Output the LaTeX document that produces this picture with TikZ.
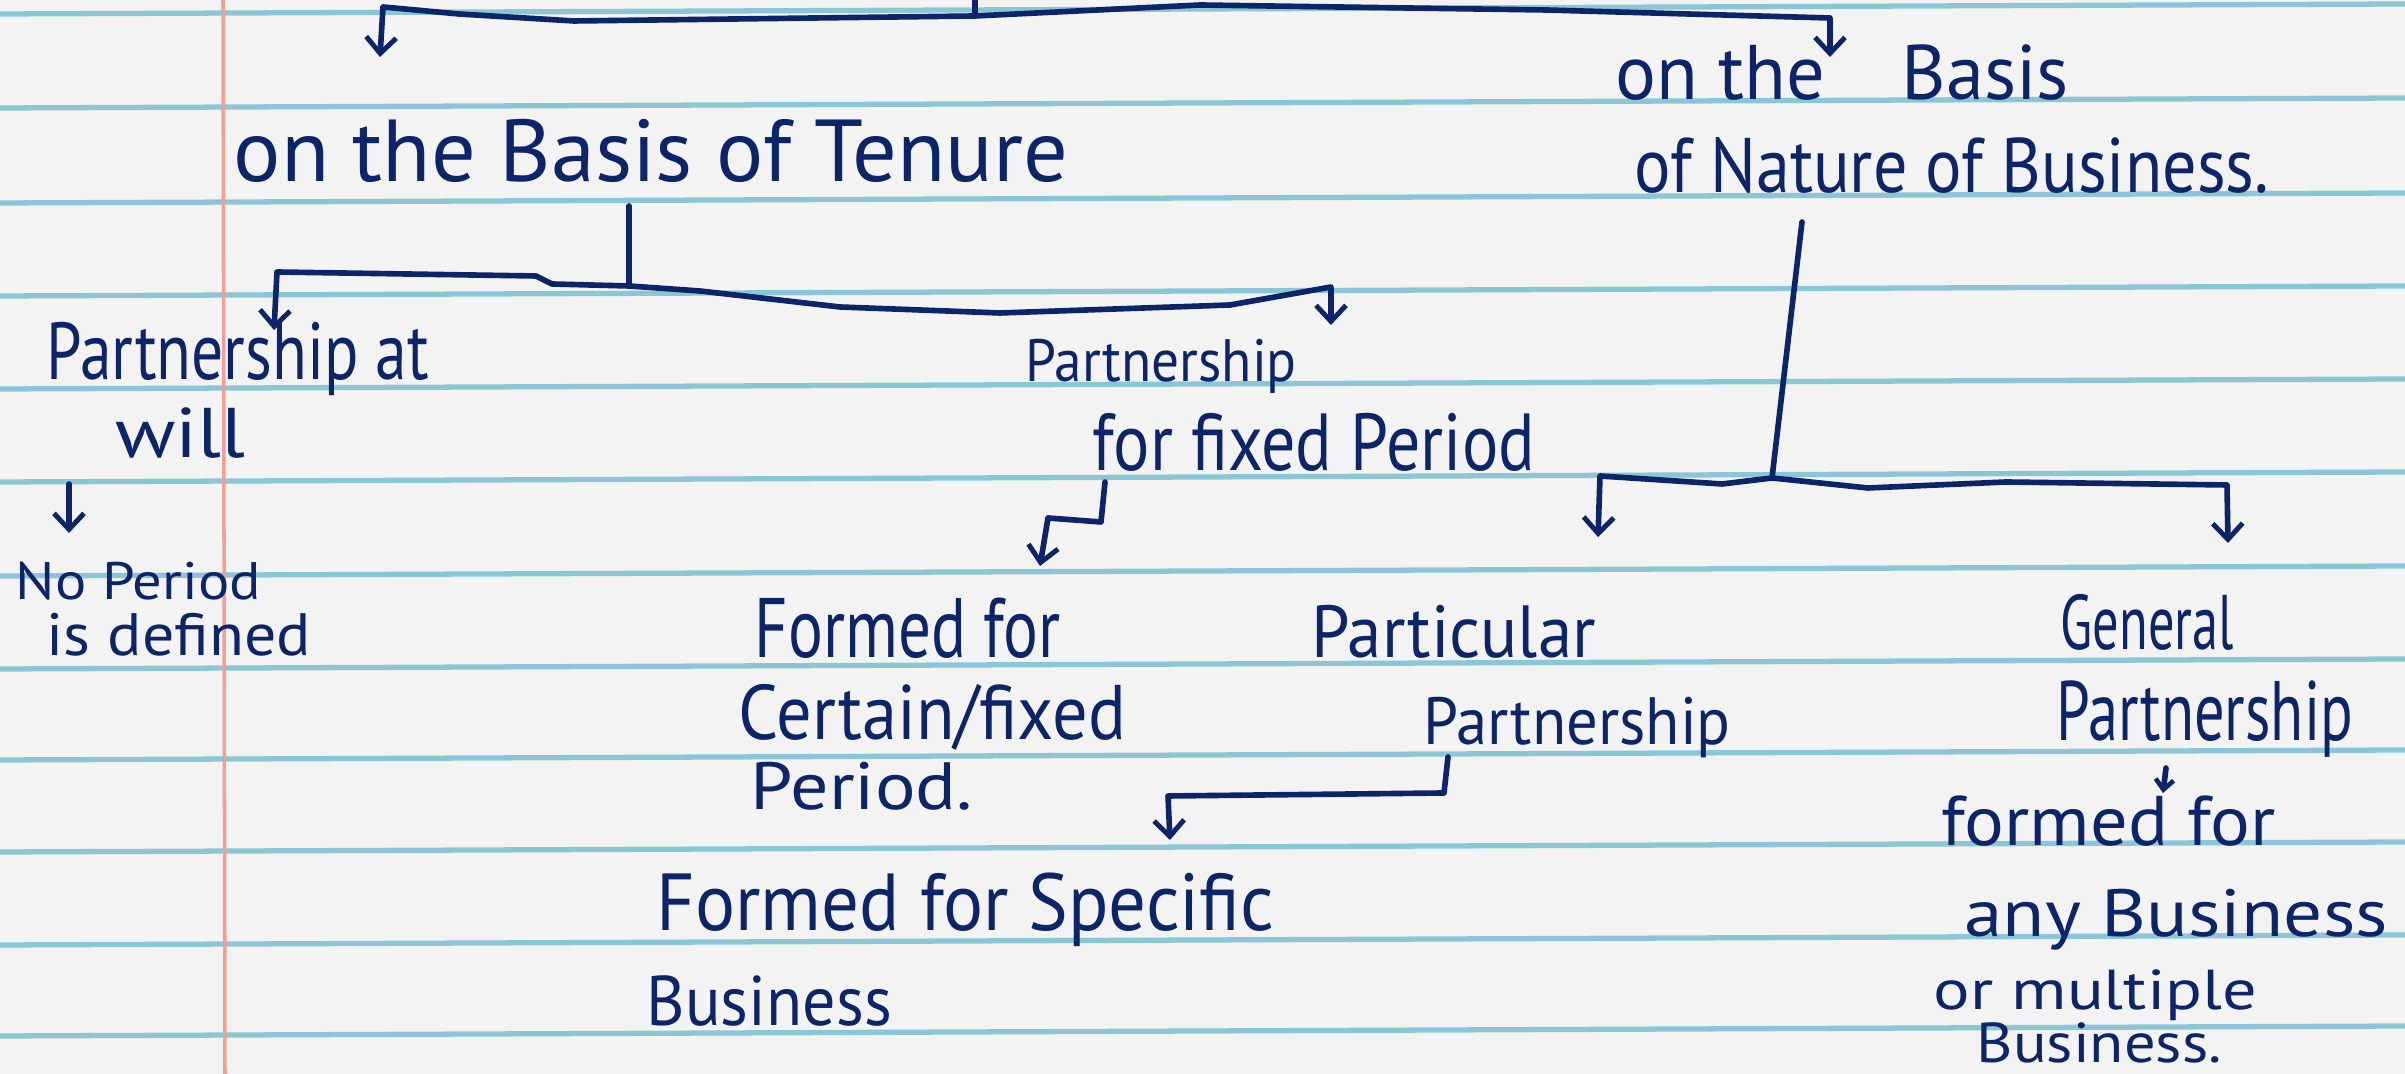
\documentclass[tikz,border=0pt]{standalone}
\usepackage{fontspec}
\setmainfont{PT Sans}
\usepackage{graphicx}
\usetikzlibrary{arrows.meta}
\definecolor{ink}{RGB}{12,36,104}
\definecolor{paper}{RGB}{243,243,243}
\definecolor{ruleblue}{RGB}{140,198,214}
\definecolor{marginred}{RGB}{240,160,150}
\newcommand\hw[3]{\fontsize{#1}{#1}\selectfont\resizebox{#2}{\height}{#3}}
\begin{document}
\begin{tikzpicture}[x=0.01cm,y=-0.01cm,
 txt/.style={text=ink,inner sep=0pt,anchor=base west},
 conn/.style={draw=ink,line width=1.6pt,line cap=round,line join=round},
 arr/.style={conn,-{Straight Barb[length=0.16cm,width=0.30cm,line width=1.4pt]}},
 sarr/.style={conn,-{Straight Barb[length=0.10cm,width=0.18cm,line width=1.3pt]}}
]
\useasboundingbox (0,0) rectangle (2405,1074);
\fill[paper] (0,0) rectangle (2405,1074);
\foreach \y in {9,103,198,291,384,477,571,664,755,847,940,1031}
  \draw[ruleblue,line width=1.5pt] (0,\y+5) -- (2405,\y-5);
\draw[marginred,line width=1pt] (223,0) -- (225,1074);

% texts
\node[txt] (tenure) at (233,182) {\hw{25pt}{8.34cm}{on the Basis of Tenure}};
\node[txt] (nat1) at (1615,100) {\hw{22pt}{4.53cm}{on the\quad Basis}};
\node[txt] (nat2) at (1634,193) {\hw{22pt}{6.34cm}{of Nature of Business.}};
\node[txt] (pwill1) at (46,380) {\hw{23pt}{3.82cm}{Partnership at}};
\node[txt] (pwill2) at (115,458) {\hw{20pt}{1.30cm}{will}};
\node[txt] (noper1) at (15,600) {\hw{15pt}{2.45cm}{No Period}};
\node[txt] (noper2) at (46,656) {\hw{17pt}{2.64cm}{is defined}};
\node[txt] (pfix1) at (1025,382) {\hw{17pt}{2.71cm}{Partnership}};
\node[txt] (pfix2) at (1092,471) {\hw{23pt}{4.42cm}{for fixed Period}};
\node[txt] (cert1) at (754,658) {\hw{24pt}{3.06cm}{Formed for}};
\node[txt] (cert2) at (738,740) {\hw{22pt}{3.87cm}{Certain/fixed}};
\node[txt] (cert3) at (750,810) {\hw{19pt}{2.22cm}{Period.}};
\node[txt] (part1) at (1311,658) {\hw{21pt}{2.84cm}{Particular}};
\node[txt] (part2) at (1423,745) {\hw{19pt}{3.07cm}{Partnership}};
\node[txt] (spec1) at (656,931) {\hw{23pt}{6.17cm}{Formed for Specific}};
\node[txt] (spec2) at (646,1026) {\hw{20pt}{2.45cm}{Business}};
\node[txt] (gen1) at (2060,650) {\hw{22pt}{1.73cm}{General}};
\node[txt] (gen2) at (2056,741) {\hw{24pt}{2.96cm}{Partnership}};
\node[txt] (any1) at (1941,846) {\hw{20pt}{3.34cm}{formed for}};
\node[txt] (any2) at (1964,937) {\hw{19pt}{4.23cm}{any Business}};
\node[txt] (any3) at (1933,1010) {\hw{16pt}{3.23cm}{or multiple}};
\node[txt] (any4) at (1976,1063) {\hw{16pt}{2.45cm}{Business.}};

% coordinates
\coordinate (top) at (975,0);
\coordinate (topj) at (975,16);
\coordinate (tl) at (380,57);
\coordinate (tr) at (1830,57);
\coordinate (ts) at (629,206);
\coordinate (tj) at (629,286);
\coordinate (pw) at (274,330);
\coordinate (pf) at (1331,325);
\coordinate (ws) at (69,484);
\coordinate (wa) at (69,533);
\coordinate (fs) at (1105,482);
\coordinate (fc) at (1040,566);
\coordinate (ns) at (1802,222);
\coordinate (nj) at (1772,478);
\coordinate (np) at (1598,537);
\coordinate (ng) at (2228,543);
\coordinate (ps) at (1448,757);
\coordinate (psp) at (1170,840);
\coordinate (gs) at (2166,768);
\coordinate (ga) at (2163,793);

% connectors
\draw[conn] (top) -- (topj);
\draw[arr] (topj) -- (574,21) -- (459,14) -- (383,7) -- (tl);
\draw[arr] (topj) -- (1200,5) -- (1546,10) -- (1830,18) -- (tr);
\draw[conn] (ts) -- (tj);
\draw[arr] (tj) -- (552,284) -- (536,276) -- (277,272) -- (pw);
\draw[arr] (tj) -- (700,291) -- (840,307) -- (1000,313) -- (1230,305) -- (1331,287) -- (pf);
\draw[arr] (ws) -- (wa);
\draw[arr] (fs) -- (1101,522) -- (1048,518) -- (fc);
\draw[conn] (ns) -- (nj);
\draw[arr] (nj) -- (1722,484) -- (1600,476) -- (np);
\draw[arr] (nj) -- (1868,488) -- (2006,482) -- (2227,485) -- (ng);
\draw[arr] (ps) -- (1444,793) -- (1168,796) -- (psp);
\draw[sarr] (gs) -- (ga);
\end{tikzpicture}
\end{document}
